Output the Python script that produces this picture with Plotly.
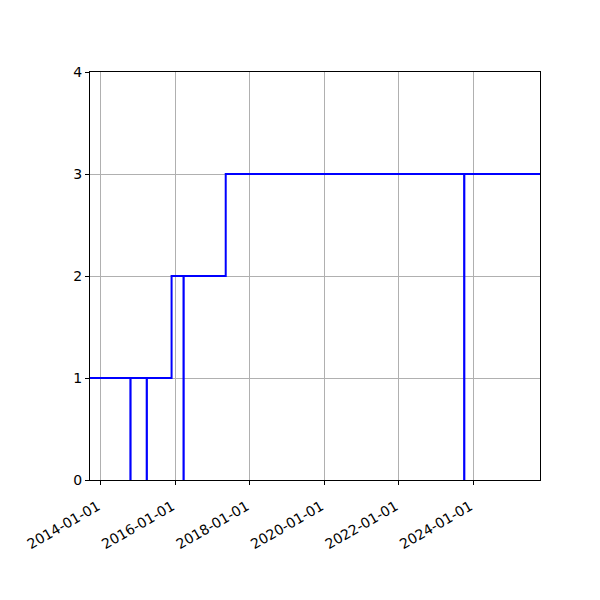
import plotly.graph_objects as go

dates = ["2013-09-17", "2014-10-18", "2014-10-20", "2015-03-27", "2015-03-29",
         "2015-11-26", "2016-03-22", "2016-03-24", "2017-05-10", "2023-10-04",
         "2023-10-06", "2025-10-17"]
values = [1, 0, 1, 0, 1, 2, 0, 2, 3, 0, 3, 3]
tick_vals = ["2014-01-01", "2016-01-01", "2018-01-01", "2020-01-01", "2022-01-01", "2024-01-01"]
y_ticks = [0, 1, 2, 3, 4]

fig = go.Figure()
fig.add_trace(go.Scatter(x=dates, y=values, mode="lines",
                         line=dict(color="#0000ff", width=2, shape="hv"),
                         showlegend=False))

axis_common = dict(showline=True, linecolor="black", linewidth=1, mirror=True,
                   ticks="outside", ticklen=4, tickcolor="black",
                   showgrid=True, gridcolor="#b0b0b0", gridwidth=1, zeroline=False,
                   tickfont=dict(family="DejaVu Sans", size=14, color="black"))

fig.update_layout(
    width=592, height=592,
    margin=dict(l=82, r=60, t=64, b=120),
    plot_bgcolor="white", paper_bgcolor="white",
    xaxis=dict(type="date", range=[dates[0], dates[-1]], tickvals=tick_vals,
               ticktext=tick_vals, tickangle=-30, ticklabelstandoff=8,
               ticklabelshift=-3, **axis_common),
    yaxis=dict(range=[0, 4], tickvals=y_ticks, **axis_common),
)
fig.write_html("out.html")
